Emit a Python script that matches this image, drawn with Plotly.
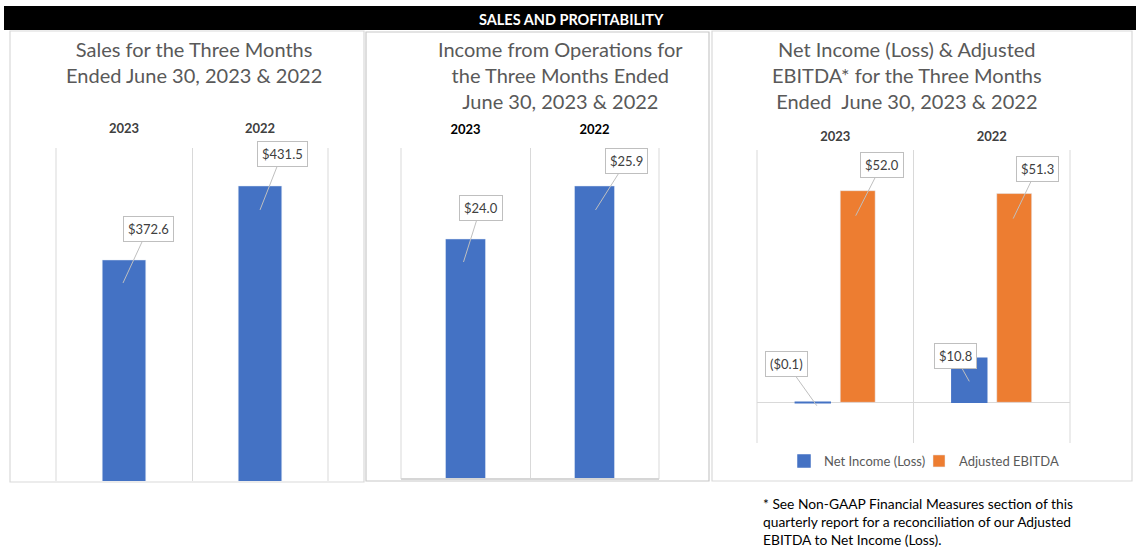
import plotly.graph_objects as go

W, H = 1140, 559
FONT = "Lato"

# ---------------- data ----------------
years = ["2023", "2022"]
sales = [372.6, 431.5]
income_ops = [24.0, 25.9]
net_income = [-0.1, 10.8]
adj_ebitda = [52.0, 51.3]

header_text = "SALES AND PROFITABILITY"
title1 = "Sales for the Three Months<br>Ended June 30, 2023 & 2022"
title2 = "Income from Operations for<br>the Three Months Ended<br>June 30, 2023 & 2022"
title3 = "Net Income (Loss) & Adjusted<br>EBITDA* for the Three Months<br>Ended\u00a0\u00a0June 30, 2023 & 2022"
footnote = ("* See Non-GAAP Financial Measures section of this<br>"
            "quarterly report for a reconciliation of our Adjusted<br>"
            "EBITDA to Net Income (Loss).")

BLUE = "#4472C4"
ORANGE = "#ED7D31"
GRID = "#d9d9d9"


def px(x):
    return x / W


def py(y):
    return 1 - y / H


def money(v):
    return f"${v:.1f}" if v >= 0 else f"(${-v:.1f})"


fig = go.Figure()

# panel 1
fig.add_trace(go.Bar(x=years, y=sales, marker_color=BLUE, width=0.32,
                     xaxis="x", yaxis="y", showlegend=False))
# panel 2
fig.add_trace(go.Bar(x=years, y=income_ops, marker_color=BLUE, width=0.31,
                     xaxis="x2", yaxis="y2", showlegend=False))
# panel 3
bw3 = 0.223
off_net = -0.255
off_ebitda = 0.032
fig.add_trace(go.Bar(x=years, y=net_income, name="Net Income (Loss)", marker_color=BLUE,
                     marker_line=dict(color=BLUE, width=1.5),
                     width=bw3, offset=off_net, xaxis="x3", yaxis="y3", legend="legend"))
fig.add_trace(go.Bar(x=years, y=adj_ebitda, name="Adjusted EBITDA", marker_color=ORANGE,
                     width=bw3, offset=off_ebitda, xaxis="x3", yaxis="y3", legend="legend2"))

xcommon = dict(type="category", side="top", showgrid=True, gridcolor=GRID, gridwidth=1,
               tickson="boundaries", ticks="", showline=False, zeroline=False,
               range=[-0.5, 1.5], fixedrange=True)

legend_common = dict(orientation="h", xanchor="left", yanchor="top",
                     font=dict(size=13, color="#595959", family=FONT),
                     bgcolor="rgba(0,0,0,0)", itemwidth=30)

fig.update_layout(
    width=W, height=H,
    margin=dict(l=0, r=0, t=0, b=0),
    paper_bgcolor="white", plot_bgcolor="white",
    barmode="overlay",
    font=dict(family=FONT, color="#404040"),
    xaxis=dict(xcommon, domain=[px(56), px(328)], anchor="y",
               tickfont=dict(size=13, color="#404040", family=FONT, weight="bold"),
               ticklabelstandoff=11),
    yaxis=dict(domain=[py(481), py(148)], range=[196.7, 461.7], visible=False, anchor="x",
               fixedrange=True),
    xaxis2=dict(xcommon, domain=[px(401), px(659)], anchor="y2",
                tickfont=dict(size=13, color="#000000", family=FONT, weight="bold"),
                ticklabelstandoff=10),
    yaxis2=dict(domain=[py(479), py(148)], range=[15.4, 27.26], visible=False, anchor="x2",
                fixedrange=True),
    xaxis3=dict(xcommon, domain=[px(757), px(1070)], anchor="y3",
                tickfont=dict(size=13, color="#404040", family=FONT, weight="bold"),
                ticklabelstandoff=5),
    yaxis3=dict(domain=[py(443), py(150)], range=[-10, 62], showgrid=False,
                showticklabels=False, zeroline=True, zerolinecolor=GRID, zerolinewidth=1,
                anchor="x3", fixedrange=True),
    legend=dict(legend_common, x=px(784), y=py(446)),
    legend2=dict(legend_common, x=px(919), y=py(446)),
)

shapes = []
# header bar
shapes.append(dict(type="rect", xref="paper", yref="paper", x0=px(4), x1=px(1136),
                   y0=py(30), y1=py(6), fillcolor="black", line=dict(width=0), layer="below"))
# panel borders
for (x0, x1, y0, y1, c) in [(10, 364, 31, 482, "#d9d9d9"),
                            (366, 709, 32, 481, "#c8c8c8"),
                            (712, 1132, 31, 481, "#d9d9d9")]:
    shapes.append(dict(type="rect", xref="paper", yref="paper", x0=px(x0), x1=px(x1),
                       y0=py(y1), y1=py(y0), line=dict(color=c, width=1.2),
                       fillcolor="rgba(0,0,0,0)", layer="below"))
# outer gridlines of each plot area
for ax_ in ["", "2", "3"]:
    for xe in (0, 1):
        shapes.append(dict(type="line", xref=f"x{ax_} domain", yref=f"y{ax_} domain",
                           x0=xe, x1=xe, y0=0, y1=1, line=dict(color=GRID, width=1),
                           layer="below"))
# bottom axis line panel 2
shapes.append(dict(type="line", xref="x2 domain", yref="y2 domain", x0=0, x1=1, y0=0, y1=0,
                   line=dict(color="#d6d6d6", width=2)))
fig.update_layout(shapes=shapes)

ann = []
ann.append(dict(text="<b>" + header_text + "</b>", xref="paper", yref="paper",
                x=px(571), y=py(19), xanchor="center", yanchor="middle", showarrow=False,
                font=dict(size=14.5, color="white", family=FONT)))
for t, cx, cy in [(title1, 194, 62), (title2, 560, 75), (title3, 907, 75)]:
    ann.append(dict(text=t, xref="paper", yref="paper", x=px(cx), y=py(cy),
                    xanchor="center", yanchor="middle",
                    showarrow=False, align="center",
                    font=dict(size=20, color="#595959", family=FONT)))
ann.append(dict(text=footnote, xref="paper", yref="paper", x=px(761), y=py(521),
                xanchor="left", yanchor="middle", align="left", showarrow=False,
                font=dict(size=13.8, color="#000000", family=FONT)))

callout = dict(showarrow=True, arrowhead=0, arrowwidth=1, arrowcolor="#bfbfbf",
               bordercolor="#bfbfbf", borderwidth=1, borderpad=4, bgcolor="white",
               font=dict(size=13, color="#404040", family=FONT))

# callouts: (index, value, xshift, yshift, ax, ay)
for i, v, xs, ys, ax, ay in [(0, sales[0], -1, -23, 25, -54), (1, sales[1], 0, -24, 22, -56)]:
    ann.append(dict(callout, text=money(v), x=i, y=v, xref="x", yref="y",
                    xshift=xs, yshift=ys, ax=ax, ay=ay))
for i, v, xs, ys, ax, ay in [(0, income_ops[0], -2, -23, 17, -54),
                             (1, income_ops[1], 1, -24, 31, -49)]:
    ann.append(dict(callout, text=money(v), x=i, y=v, xref="x2", yref="y2",
                    xshift=xs, yshift=ys, ax=ax, ay=ay))
for i, v, xs, ys, ax, ay in [(0, adj_ebitda[0], -2, -25, 26, -51),
                             (1, adj_ebitda[1], -1, -25, 24, -50)]:
    ann.append(dict(callout, text=money(v), x=i + off_ebitda + bw3 / 2, y=v,
                    xref="x3", yref="y3", xshift=xs, yshift=ys, ax=ax, ay=ay))
for i, v, xs, ys, ax, ay in [(0, net_income[0], 4, -3, -30, -42),
                             (1, net_income[1], 0, -23, -14, -25)]:
    ann.append(dict(callout, text=money(v), x=i + off_net + bw3 / 2, y=v,
                    xref="x3", yref="y3", xshift=xs, yshift=ys, ax=ax, ay=ay))

fig.update_layout(annotations=ann)
fig.write_html("out.html", config={"displayModeBar": False},
               post_script="document.body.style.margin='0px';")
